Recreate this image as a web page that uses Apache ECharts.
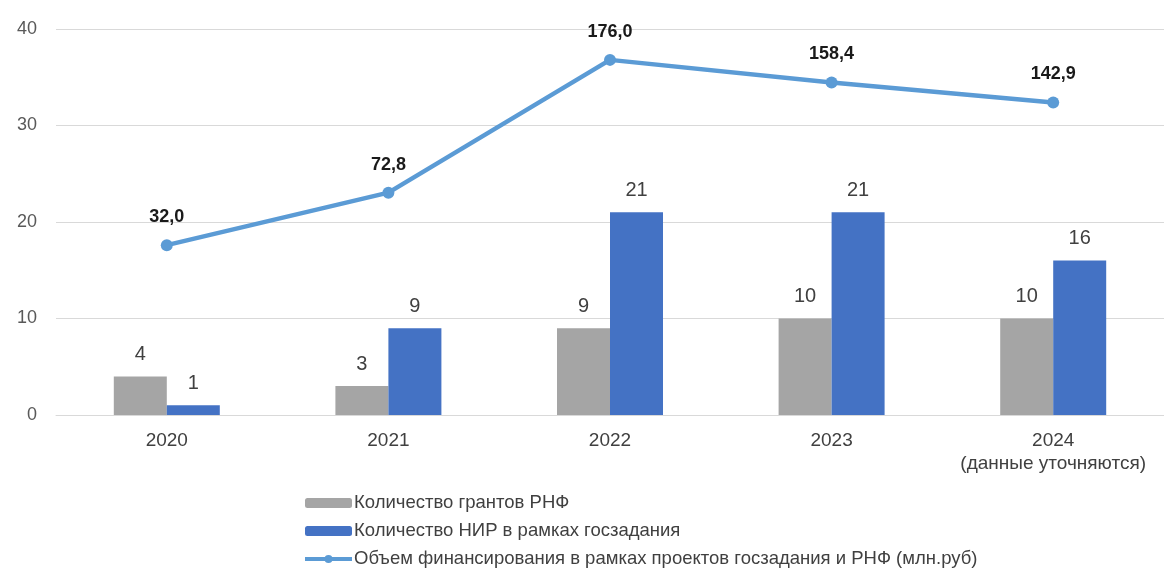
<!DOCTYPE html>
<html>
<head>
<meta charset="utf-8">
<script src="https://cdn.jsdelivr.net/npm/echarts@6/dist/echarts.min.js"></script>
<style>
html,body{margin:0;padding:0;background:#fff;}
#chart{width:1164px;height:575px;}
</style>
</head>
<body>
<div id="chart"></div>
<script>
const categories = ['2020', '2021', '2022', '2023', '2024\n(данные уточняются)'];
const grantsRNF = [4, 3, 9, 10, 10];
const nirGoszadanie = [1, 9, 21, 21, 16];
const funding = [32.0, 72.8, 176.0, 158.4, 142.9];
const leftTicks = { min: 0, max: 40, interval: 10 };
const seriesNames = [
  'Количество грантов РНФ',
  'Количество НИР в рамках госзадания',
  'Объем финансирования в рамках проектов госзадания и РНФ (млн.руб)'
];

const FONT = '"Liberation Sans", Arial, sans-serif';
const chart = echarts.init(document.getElementById('chart'));
chart.setOption({
  animation: false,
  backgroundColor: '#ffffff',
  textStyle: { fontFamily: FONT },
  grid: { left: 56, top: 29, width: 1114, height: 386, containLabel: false },
  legend: {
    orient: 'vertical',
    left: 303,
    top: 491,
    height: 84,
    padding: 0,
    itemWidth: 47,
    itemHeight: 10,
    itemGap: 4,
    textStyle: { fontFamily: FONT, fontSize: 18.5, color: '#404040', lineHeight: 24, padding: [0, 0, 0, -3] },
    data: [
      { name: seriesNames[0] },
      { name: seriesNames[1] },
      { name: seriesNames[2], lineStyle: { width: 4 } }
    ]
  },
  xAxis: {
    type: 'category',
    data: categories,
    axisLine: { show: true, lineStyle: { color: '#D9D9D9', width: 1 } },
    axisTick: { show: false },
    axisLabel: { interval: 0, fontFamily: FONT, fontSize: 19, color: '#404040', lineHeight: 23, margin: 14 }
  },
  yAxis: [
    {
      type: 'value',
      min: leftTicks.min, max: leftTicks.max, interval: leftTicks.interval,
      axisLine: { show: false },
      axisTick: { show: false },
      splitLine: { lineStyle: { color: '#D9D9D9', width: 1 } },
      axisLabel: { fontFamily: FONT, fontSize: 18, color: '#595959', margin: 19 }
    },
    {
      type: 'value',
      min: -100, max: 200,
      show: false,
      splitLine: { show: false }
    }
  ],
  series: [
    {
      name: seriesNames[0],
      type: 'bar',
      data: grantsRNF,
      barWidth: 53,
      barGap: '0%',
      itemStyle: { color: '#A5A5A5' },
      label: { show: true, position: 'top', distance: 12, fontFamily: FONT, fontSize: 20, color: '#404040' }
    },
    {
      name: seriesNames[1],
      type: 'bar',
      data: nirGoszadanie,
      barWidth: 53,
      barGap: '0%',
      itemStyle: { color: '#4472C4' },
      label: { show: true, position: 'top', distance: 12, fontFamily: FONT, fontSize: 20, color: '#404040' }
    },
    {
      name: seriesNames[2],
      type: 'line',
      yAxisIndex: 1,
      data: funding,
      symbol: 'circle',
      symbolSize: 12,
      lineStyle: { color: '#5B9BD5', width: 4.5 },
      itemStyle: { color: '#5B9BD5' },
      label: {
        show: true, position: 'top', distance: 13,
        fontFamily: FONT, fontSize: 18, fontWeight: 'bold', color: '#1a1a1a',
        formatter: p => p.value.toFixed(1).replace('.', ',')
      },
      z: 5
    }
  ]
});
</script>
</body>
</html>
